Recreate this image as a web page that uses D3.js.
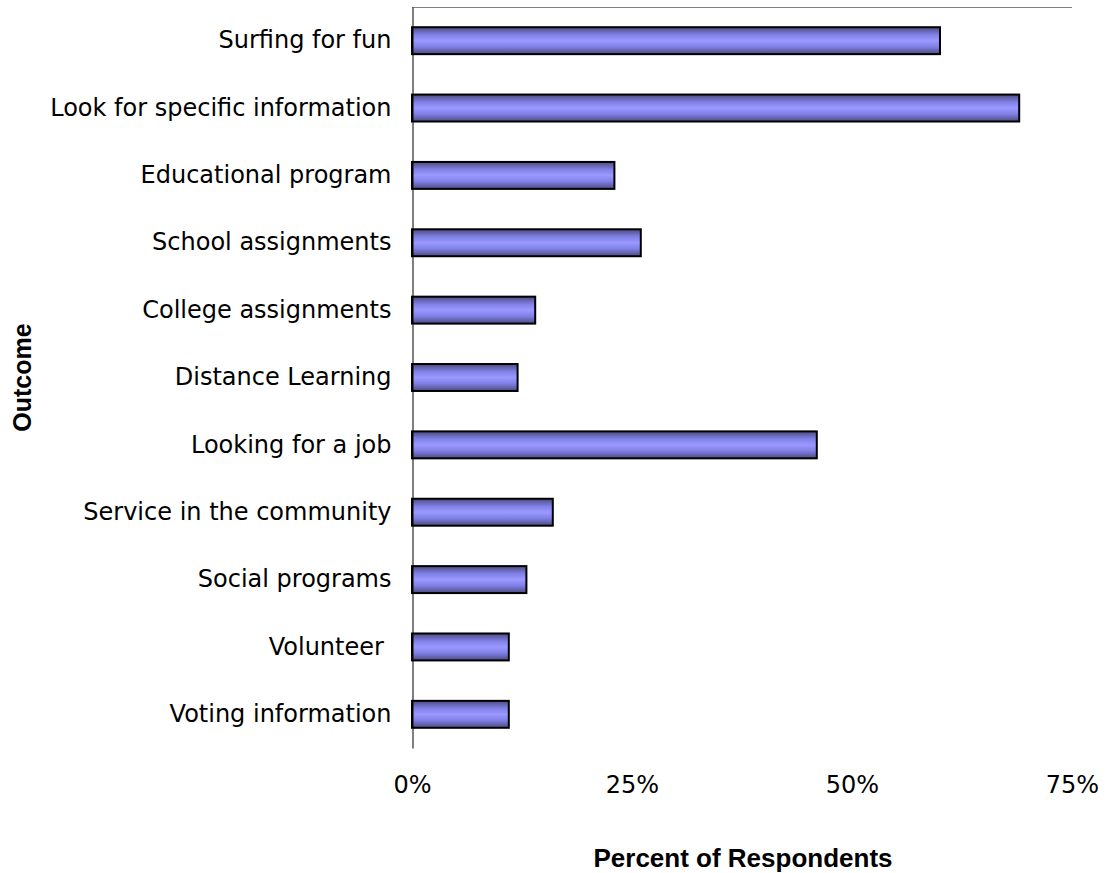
<!DOCTYPE html>
<html>
<head>
<meta charset="utf-8">
<script src="https://cdn.jsdelivr.net/npm/d3@7"></script>
<style>
  html, body { margin: 0; padding: 0; background: #ffffff; }
  svg { display: block; }
  .cat-axis text { white-space: pre; }
</style>
</head>
<body>
<svg id="chart" width="1106" height="873"></svg>
<script>
// Survey results: what respondents use the Internet for
const categories = [
  "Surfing for fun",
  "Look for specific information",
  "Educational program",
  "School assignments",
  "College assignments",
  "Distance Learning",
  "Looking for a job",
  "Service in the community",
  "Social programs",
  "Volunteer ",
  "Voting information"
];
const percentValues = [0.60, 0.69, 0.23, 0.26, 0.14, 0.12, 0.46, 0.16, 0.13, 0.11, 0.11];
const tickValues = [0, 0.25, 0.50, 0.75];
const xTitle = "Percent of Respondents";
const yTitle = "Outcome";

const svg = d3.select("#chart");
const plot = { left: 412, right: 1072, top: 7, bottom: 748 };

const x = d3.scaleLinear().domain([0, 0.75]).range([plot.left, plot.right]);
const y = d3.scaleBand().domain(categories).range([plot.top, plot.bottom])
  .paddingInner(0.6).paddingOuter(0.3);

// bar fill: darker edges, light lavender center
const grad = svg.append("defs").append("linearGradient")
  .attr("id", "barFill").attr("x1", 0).attr("y1", 0).attr("x2", 0).attr("y2", 1);
[["0%", "#4c4c80"], ["28%", "#8080e6"], ["50%", "#9999ff"], ["72%", "#8080e6"], ["100%", "#4c4c80"]]
  .forEach(([o, c]) => grad.append("stop").attr("offset", o).attr("stop-color", c));

// top border of the plot area
svg.append("line")
  .attr("x1", plot.left).attr("x2", plot.right)
  .attr("y1", plot.top + 0.5).attr("y2", plot.top + 0.5)
  .attr("stroke", "#808080").attr("stroke-width", 1);

// bars
svg.append("g").selectAll("rect")
  .data(categories.map((c, i) => ({ c, v: percentValues[i] })))
  .join("rect")
  .attr("x", x(0))
  .attr("y", d => y(d.c))
  .attr("width", d => x(d.v) - x(0))
  .attr("height", y.bandwidth())
  .attr("fill", "url(#barFill)")
  .attr("stroke", "#000")
  .attr("stroke-width", 2);

// category axis
const yAxis = svg.append("g")
  .attr("class", "cat-axis")
  .attr("transform", `translate(${plot.left + 0.5},0)`)
  .call(d3.axisLeft(y).tickSize(0).tickSizeOuter(0).tickPadding(21));
yAxis.select(".domain").attr("stroke", "#000").attr("stroke-width", 1);
yAxis.selectAll("text")
  .attr("font-family", "'DejaVu Sans', Verdana, sans-serif")
  .attr("font-size", 24)
  .attr("fill", "#000");

// value axis (labels only)
const xAxis = svg.append("g")
  .attr("transform", `translate(0,${plot.bottom})`)
  .call(d3.axisBottom(x).tickValues(tickValues).tickFormat(d3.format(".0%"))
    .tickSize(0).tickPadding(28));
xAxis.select(".domain").remove();
xAxis.selectAll("text")
  .attr("font-family", "'DejaVu Sans', Verdana, sans-serif")
  .attr("font-size", 24)
  .attr("fill", "#000");

// axis titles
svg.append("text")
  .attr("x", (plot.left + plot.right) / 2 + 1)
  .attr("y", 867)
  .attr("text-anchor", "middle")
  .attr("font-family", "'Liberation Sans', Arial, sans-serif")
  .attr("font-weight", "bold")
  .attr("font-size", 26)
  .text(xTitle);

svg.append("text")
  .attr("transform", `translate(31,${(plot.top + plot.bottom) / 2}) rotate(-90)`)
  .attr("text-anchor", "middle")
  .attr("font-family", "'Liberation Sans', Arial, sans-serif")
  .attr("font-weight", "bold")
  .attr("font-size", 25)
  .text(yTitle);
</script>
</body>
</html>
